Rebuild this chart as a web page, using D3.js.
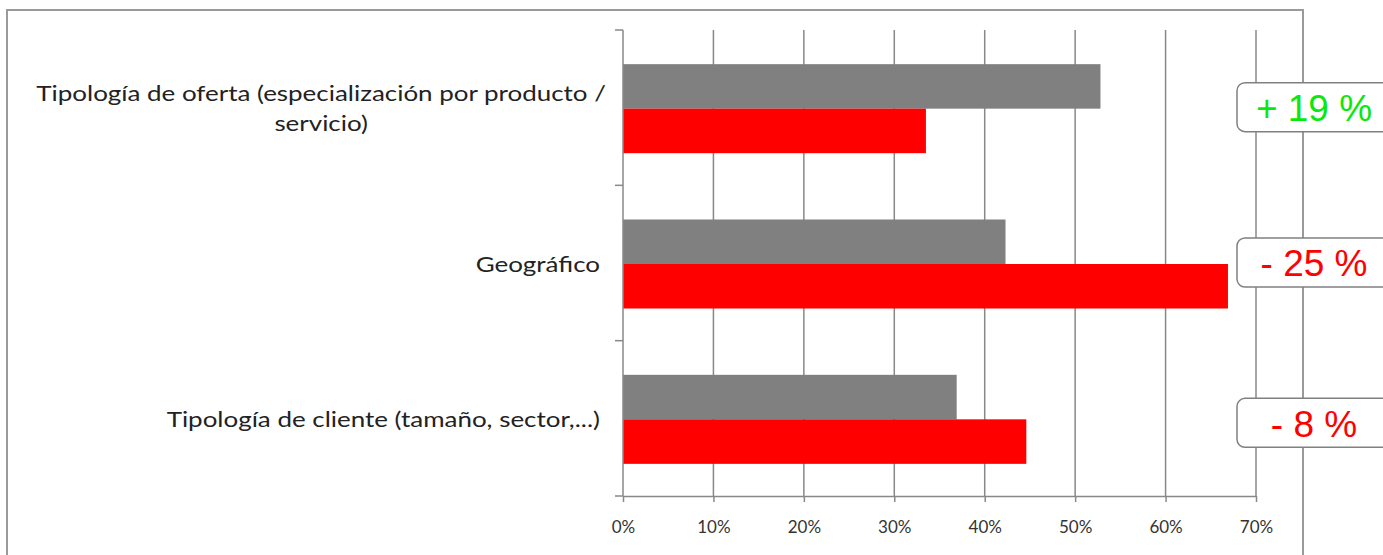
<!DOCTYPE html>
<html>
<head>
<meta charset="UTF-8">
<title>Segmentación</title>
<style>
    body {
        margin: 0;
        background: #fff;
    }
    .cat-label {
        font-family: Lato, "Open Sans", sans-serif;
        font-size: 22px;
        fill: #222;
    }
    .x-axis text {
        font-family: Lato, sans-serif;
        font-size: 17px;
        fill: #333;
    }
    .x-axis line, .x-axis path {
        stroke: #888;
        stroke-width: 1.5px;
    }
    .grid line {
        stroke: #888;
        stroke-width: 1.5px;
    }
    .diff-box rect {
        fill: #fff;
        stroke: #808080;
        stroke-width: 1.5px;
    }
    .diff-box text {
        font-family: "Liberation Sans", Arial, sans-serif;
        font-size: 37px;
    }
</style>
</head>
<body>
<svg id="chart" width="1383" height="555"></svg>
<script src="https://d3js.org/d3.v7.min.js"></script>
<script>

    // categories, top to bottom ("\n" = line break in the label)
    const categories = [
        "Tipología de oferta (especialización por producto /\nservicio)",
        "Geográfico",
        "Tipología de cliente (tamaño, sector,...)"
    ];
    const seriesNames = ["serie1", "serie2"];
    const greyValues = [0.528, 0.423, 0.369];
    const redValues = [0.335, 0.669, 0.446];
    const diffLabels = ["+ 19 %", "- 25 %", "- 8 %"];
    const diffColors = ["#0be80b", "#ff0000", "#ff0000"];
    const xTicks = [0, 0.1, 0.2, 0.3, 0.4, 0.5, 0.6, 0.7];

    const svg = d3.select("#chart");

    // outer frame (bottom edge runs off the picture)
    svg.append("rect")
        .attr("x", 7).attr("y", 10)
        .attr("width", 1296).attr("height", 560)
        .attr("fill", "none")
        .attr("stroke", "#9a9a9a")
        .attr("stroke-width", 2);

    let x = d3.scaleLinear()
        .domain([0, 0.7])
        .range([623, 1256]);

    let y = d3.scaleBand()
        .domain(categories)
        .range([30, 496]);

    let sub = d3.scaleBand()
        .domain(seriesNames)
        .range([0, y.bandwidth()])
        .paddingOuter(0.745);

    let color = d3.scaleOrdinal()
        .domain(seriesNames)
        .range(["#808080", "#ff0000"]);

    //gridlines
    svg.append("g")
        .attr("class", "grid")
        .selectAll("line")
        .data(xTicks.slice(1))
        .enter().append("line")
        .attr("x1", d => x(d)).attr("x2", d => x(d))
        .attr("y1", y.range()[0]).attr("y2", y.range()[1]);

    //bars
    let rows = categories.map((c, i) => ({cat: c, vals: [greyValues[i], redValues[i]]}));

    svg.append("g")
        .selectAll("g")
        .data(rows)
        .enter().append("g")
        .attr("transform", d => "translate(0," + (y(d.cat) + 1) + ")")
        .selectAll("rect")
        .data(d => d.vals.map((v, j) => ({s: seriesNames[j], v: v})))
        .enter().append("rect")
        .attr("x", x(0))
        .attr("y", d => sub(d.s))
        .attr("width", d => x(d.v) - x(0))
        .attr("height", sub.bandwidth())
        .attr("fill", d => color(d.s));

    //bottom axis
    svg.append("g")
        .attr("class", "x-axis")
        .attr("transform", "translate(0," + y.range()[1] + ")")
        .call(d3.axisBottom(x)
            .tickValues(xTicks)
            .tickFormat(d3.format(".0%"))
            .tickSize(6)
            .tickPadding(19)
            .tickSizeOuter(0));

    //left axis line + category separators
    let left = svg.append("g").attr("class", "x-axis");
    left.append("line")
        .attr("x1", x(0)).attr("x2", x(0))
        .attr("y1", y.range()[0]).attr("y2", y.range()[1]);
    left.selectAll("line.sep")
        .data(categories.map(c => y(c)).concat([y.range()[1]]))
        .enter().append("line")
        .attr("class", "sep")
        .attr("x1", x(0) - 8).attr("x2", x(0))
        .attr("y1", d => d).attr("y2", d => d);

    //category labels (text in the original is stretched sideways)
    let labelRight = 600;
    let lineH = 30;
    let labels = svg.append("g")
        .attr("transform", "translate(" + labelRight + ",0) scale(1.18,1)");

    categories.forEach(c => {
        let lines = c.split("\n");
        let t = labels.append("text")
            .attr("class", "cat-label")
            .attr("text-anchor", lines.length > 1 ? "middle" : "end");
        let cy = y(c) + y.bandwidth() / 2 + 1;
        lines.forEach((l, i) => {
            t.append("tspan")
                .attr("y", cy + (i - (lines.length - 1) / 2) * lineH)
                .attr("dy", "0.35em")
                .text(l);
        });
        if (lines.length > 1) {
            let w = d3.max(t.selectAll("tspan").nodes(), n => n.getComputedTextLength());
            t.selectAll("tspan").attr("x", 5 - w / 2);
        } else {
            t.selectAll("tspan").attr("x", 0);
        }
    });

    //difference boxes
    let boxes = svg.append("g")
        .selectAll("g")
        .data(categories.map((c, i) => ({cat: c, label: diffLabels[i], col: diffColors[i]})))
        .enter().append("g")
        .attr("class", "diff-box")
        .attr("transform", (d, i) => "translate(1237," + (y(d.cat) + y.bandwidth() / 2 + (i == 2 ? 5 : 0)) + ")");

    boxes.append("rect")
        .attr("x", 0).attr("y", -25)
        .attr("width", 155).attr("height", 49)
        .attr("rx", 8);

    boxes.append("text")
        .attr("x", 77)
        .attr("dy", "0.36em")
        .attr("text-anchor", "middle")
        .attr("fill", d => d.col)
        .text(d => d.label);

</script>
</body>
</html>
